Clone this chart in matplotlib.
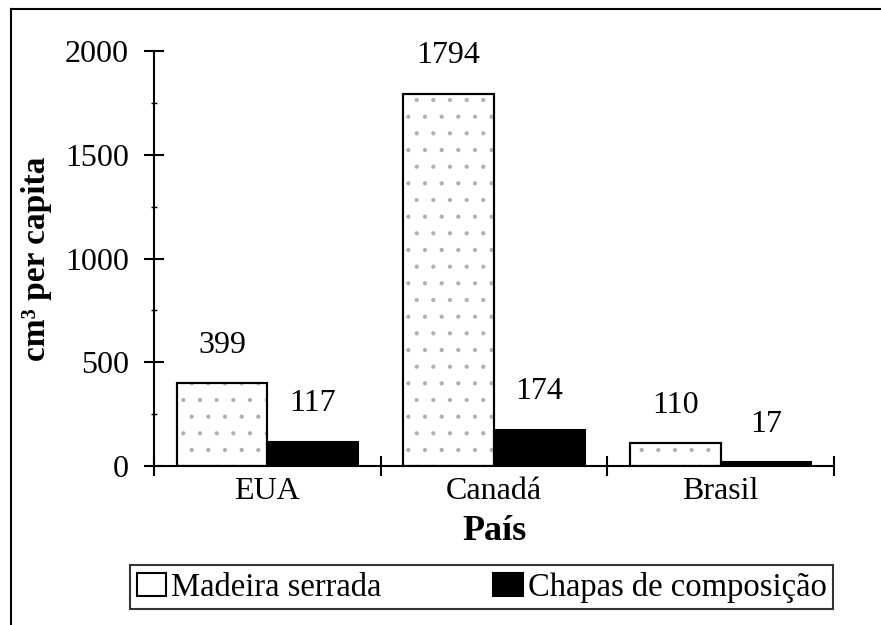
import matplotlib
matplotlib.use("Agg")
import matplotlib.pyplot as plt
import numpy as np
from matplotlib.lines import Line2D
from matplotlib.ticker import MultipleLocator, FixedLocator, NullFormatter

plt.rcParams["font.family"] = ["Liberation Serif", "DejaVu Serif"]
plt.rcParams["hatch.linewidth"] = 0.6

paises = ["EUA", "Canadá", "Brasil"]
madeira = [399, 1794, 110]
chapas = [117, 174, 17]
series_names = ["Madeira serrada", "Chapas de composição"]

fig = plt.figure(figsize=(8.81, 6.25), dpi=100)
ax = fig.add_axes([154 / 881, 1 - 466 / 625, 680 / 881, 415 / 625])

x = np.arange(len(paises))
w = 0.4

b1 = ax.bar(x - w / 2, madeira, w, facecolor="white", edgecolor="black",
            linewidth=1.5, label=series_names[0], zorder=2)
# light stipple inside the light bars
ax.bar(x - w / 2, madeira, w, fill=False, edgecolor="#b0b0b0", linewidth=0,
       hatch=".", zorder=3)
ax.bar(x - w / 2, madeira, w, fill=False, edgecolor="black", linewidth=1.5,
       zorder=4)
b2 = ax.bar(x + w / 2, chapas, w, facecolor="black", edgecolor="black",
            linewidth=1.5, label=series_names[1], zorder=2)

off = 38 * 72 / 100
for xi, v in zip(x - w / 2, madeira):
    ax.annotate(str(v), (xi, v), xytext=(0, off), textcoords="offset points",
                ha="center", va="center", fontsize=23)
for xi, v in zip(x + w / 2, chapas):
    ax.annotate(str(v), (xi, v), xytext=(0, off), textcoords="offset points",
                ha="center", va="center", fontsize=23)

ax.set_xlim(-0.5, 2.5)
ax.set_ylim(0, 2000)
for s in ["top", "right"]:
    ax.spines[s].set_visible(False)
ax.spines["left"].set_linewidth(1.5)
ax.spines["bottom"].set_linewidth(1.5)

ax.yaxis.set_major_locator(MultipleLocator(500))
ax.yaxis.set_minor_locator(MultipleLocator(250))
ax.tick_params(axis="y", which="major", direction="inout", length=14,
               width=1.5, labelsize=23, pad=11)
ax.tick_params(axis="y", which="minor", direction="inout", length=5, width=1)

ax.xaxis.set_major_locator(FixedLocator([-0.5, 0.5, 1.5, 2.5]))
ax.xaxis.set_major_formatter(NullFormatter())
ax.xaxis.set_minor_locator(FixedLocator(x))
ax.set_xticklabels(paises, minor=True)
ax.tick_params(axis="x", which="major", direction="inout", length=14, width=1.5)
ax.tick_params(axis="x", which="minor", length=0, labelsize=23, pad=8)

ax.set_ylabel("cm³ per capita", fontsize=24, fontweight="bold")
ax.yaxis.set_label_coords(-0.15, 0.5)
fig.text(494 / 881, 1 - 532 / 625, "País", ha="center", va="center",
         fontsize=26, fontweight="bold")

leg = fig.legend(handles=[b1, b2], labels=series_names, loc="upper left",
                 bbox_to_anchor=(130 / 881, 1 - 565 / 625, 703 / 881, 0),
                 mode="expand", ncol=2, fontsize=23.5, frameon=True, fancybox=False,
                 handlelength=0.9, handleheight=0.7, handletextpad=0.15,
                 borderpad=0.2, borderaxespad=0)
leg.get_frame().set_edgecolor("black")
leg.get_frame().set_linewidth(1.5)

# outer border of the figure
fig.add_artist(Line2D([11 / 881, 1], [1 - 9 / 625, 1 - 9 / 625],
                      transform=fig.transFigure, color="black", lw=1.5))
fig.add_artist(Line2D([11 / 881, 11 / 881], [0, 1 - 9 / 625],
                      transform=fig.transFigure, color="black", lw=1.5))

fig.savefig("out.png", dpi=100)
